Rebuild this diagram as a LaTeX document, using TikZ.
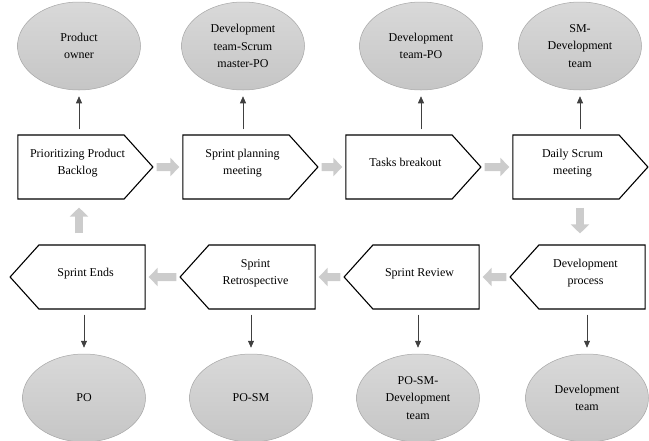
\documentclass[tikz,border=0pt]{standalone}
\usepackage{fontspec}
\setmainfont{Liberation Serif}
\usetikzlibrary{shapes.symbols}
\usetikzlibrary{shapes.geometric}
\usetikzlibrary{arrows.meta}
% text inside a step box: moved towards the point, and a little up
\newcommand{\steptext}[2]{\raisebox{4.5pt}[\height][\depth]{\kern#1\begin{tabular}{@{}c@{}}#2\end{tabular}\kern-#1}}
\newcommand{\rtext}[1]{\steptext{6.5pt}{#1}}
\newcommand{\ltext}[1]{\steptext{-6.5pt}{#1}}
\tikzset{>={Stealth[length=7pt,width=6pt,inset=0pt]}}
\tikzset{
	% process steps
	task/.style={signal, signal pointer angle=96, draw=black, line width=1.1pt,
		fill=white, minimum width=135pt, minimum height=64pt, inner sep=2pt,
		font=\fontsize{12}{17.5}\selectfont},
	taskr/.style={task, signal to=east},
	taskl/.style={task, signal to=west},
	% who takes part
	role/.style={ellipse, draw=gray!70, line width=0.5pt, top color=gray!30,
		bottom color=gray!45, minimum width=123pt, minimum height=88pt,
		inner sep=0pt, align=center, font=\fontsize{12}{17.5}\selectfont},
	% arrows
	flow/.style={draw=gray!40, line width=8pt, -{Triangle[length=9pt,width=18pt]},
		shorten <=3pt, shorten >=3pt},
	link/.style={->, draw=black!75, line width=0.6pt, shorten <=5pt, shorten >=6pt},
}

\begin{document}
\begin{tikzpicture}[x=1pt,y=-1pt]
	\useasboundingbox (0,0) rectangle (649,440);
	
	% top row
	\node[taskr] (b1) at (71,167) {\rtext{Prioritizing Product\\Backlog}};
	\node[taskr] (b2) at (236,167) {\rtext{Sprint planning\\meeting}};
	\node[taskr] (b3) at (399,167) {\rtext{Tasks breakout}};
	\node[taskr] (b4) at (566,167) {\rtext{Daily Scrum\\meeting}};
	
	% bottom row
	\node[taskl] (b5) at (92,277) {\ltext{Sprint Ends}};
	\node[taskl] (b6) at (262,277) {\ltext{Sprint\\Retrospective}};
	\node[taskl] (b7) at (426,277) {\ltext{Sprint Review}};
	\node[taskl] (b8) at (592,277) {\ltext{Development\\process}};
	
	\node[role] (e1) at (79,46) {Product\\owner};
	\node[role] (e2) at (243,46) {Development\\team-Scrum\\master-PO};
	\node[role] (e3) at (421,46) {Development\\team-PO};
	\node[role] (e4) at (580,46) {SM-\\Development\\team};
	
	\node[role] (e5) at (84,398) {PO};
	\node[role] (e6) at (251,398) {PO-SM};
	\node[role] (e7) at (418,398) {PO-SM-\\Development\\team};
	\node[role] (e8) at (587,398) {Development\\team};
	
	\draw[flow] (b1) -- (b2);
	\draw[flow] (b2) -- (b3);
	\draw[flow] (b3) -- (b4);
	\draw[flow, shorten <=8pt, shorten >=11pt] (b4.south -| e4) -- (b8.north -| e4);
	\draw[flow] (b8) -- (b7);
	\draw[flow] (b7) -- (b6);
	\draw[flow] (b6) -- (b5);
	\draw[flow, shorten <=11pt, shorten >=8pt] (b5.north -| e1) -- (b1.south -| e1);
	
	\draw[link] (b1.north -| e1) -- (e1);
	\draw[link] (b2.north -| e2) -- (e2);
	\draw[link] (b3.north -| e3) -- (e3);
	\draw[link] (b4.north -| e4) -- (e4);
	
	\draw[link] (b5.south -| e5) -- (e5);
	\draw[link] (b6.south -| e6) -- (e6);
	\draw[link] (b7.south -| e7) -- (e7);
	\draw[link] (b8.south -| e8) -- (e8);
	
\end{tikzpicture}
\end{document}
